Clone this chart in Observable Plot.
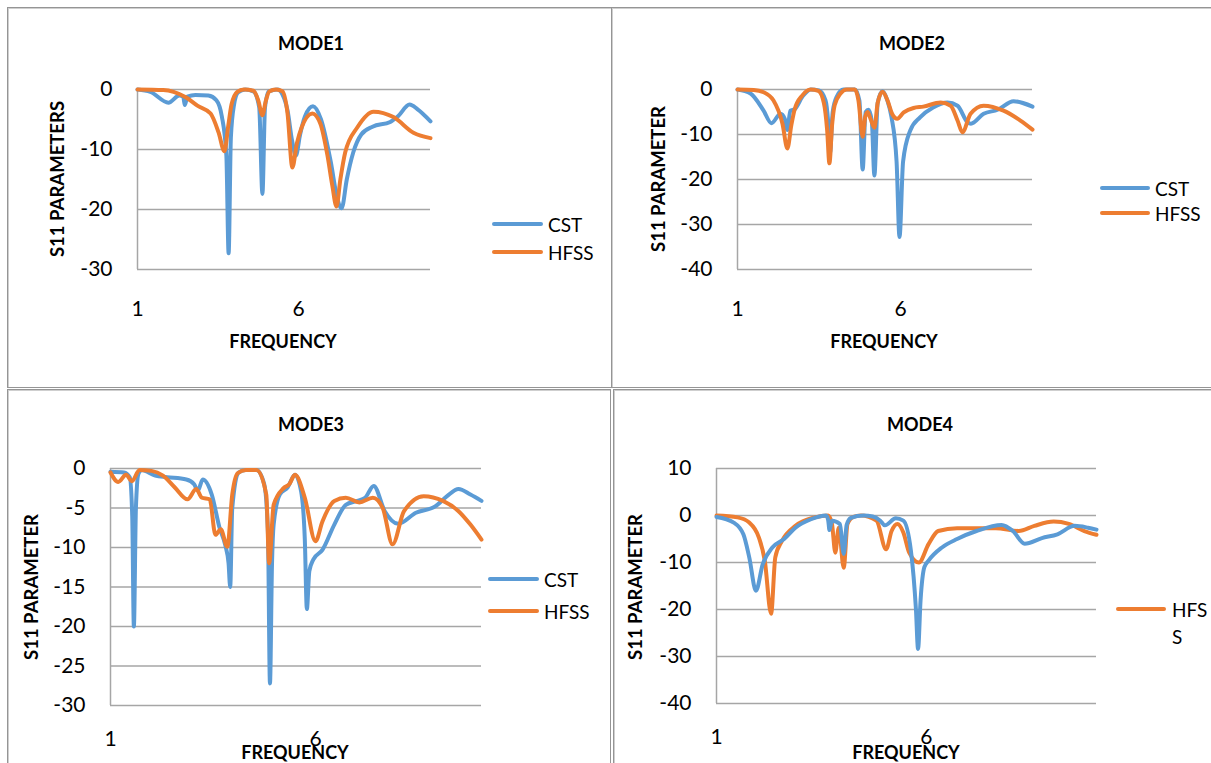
<!DOCTYPE html>
<html><head><meta charset="utf-8">
<script src="https://cdn.jsdelivr.net/npm/d3@7"></script>
<script src="https://cdn.jsdelivr.net/npm/@observablehq/plot@0.6"></script>
<style>
body{margin:0;background:#fff;}
#root{position:relative;width:1211px;height:763px;overflow:hidden;background:#fff;font-family:Lato,"Open Sans",sans-serif;color:#000;}
.box{position:absolute;box-sizing:border-box;border:1px solid #959595;box-shadow:inset 1px 1px 0 #cfcfcf;}
.abs{position:absolute;white-space:nowrap;color:#000;}
.title{font-weight:bold;font-size:18px;transform:translate(-50%,-50%);}
.xlab{font-weight:bold;font-size:18px;transform:translate(-50%,-50%);}
.ylab{font-weight:bold;font-size:18.5px;transform:translate(-50%,-50%) rotate(-90deg);}
.leg{font-size:19px;transform:translateY(-50%);}
.legline{position:absolute;height:4px;border-radius:2px;transform:translateY(-50%);}
.plot{position:absolute;}
</style></head>
<body><div id="root"></div>
<script>
// ---- data: [frequency, S11] ----
const titles = ["MODE1","MODE2","MODE3","MODE4"];
const yLabels = ["S11 PARAMETERS","S11 PARAMETER","S11 PARAMETER","S11 PARAMETER"];
const xLabel = "FREQUENCY";
const seriesNames = ["CST","HFSS"];
const xTicks = [1,6];
const yTicks1 = [0,-10,-20,-30];
const yTicks2 = [0,-10,-20,-30,-40];
const yTicks3 = [0,-5,-10,-15,-20,-25,-30];
const yTicks4 = [10,0,-10,-20,-30,-40];

const mode1CST = [[1,0],[1.4,-0.4],[1.96,-2.2],[2.3,-1.0],[2.42,-1.2],[2.47,-2.6],[2.55,-1.2],[2.8,-0.9],[3.2,-1.0],[3.45,-1.8],[3.62,-4.5],[3.76,-11],[3.83,-27.3],[3.9,-8],[4.0,-2.5],[4.12,-0.5],[4.35,0],[4.6,-0.3],[4.78,-3],[4.88,-17.4],[4.96,-3],[5.08,-0.3],[5.35,0],[5.5,-0.8],[5.66,-3.5],[5.8,-8.5],[5.92,-11],[6.05,-7.5],[6.2,-4.5],[6.45,-2.8],[6.7,-5],[7.0,-12],[7.2,-18],[7.34,-19.8],[7.5,-15],[7.7,-10.5],[7.95,-7.5],[8.3,-6.2],[8.85,-5.4],[9.1,-4.4],[9.45,-2.5],[9.7,-3.3],[10.1,-5.3]];
const mode1HFSS = [[1,0],[1.8,-0.1],[2.12,-0.4],[2.5,-1.3],[2.86,-2.7],[3.27,-4],[3.52,-7.2],[3.7,-10.3],[3.82,-6],[3.92,-2.5],[4.1,-0.4],[4.3,0],[4.6,-0.2],[4.75,-1.8],[4.88,-4.3],[4.98,-2],[5.1,-0.3],[5.3,0],[5.5,-0.3],[5.66,-4],[5.81,-13],[5.95,-9],[6.1,-6.3],[6.43,-4],[6.68,-5.7],[6.9,-11],[7.05,-16],[7.18,-19.5],[7.3,-15],[7.45,-10.5],[7.83,-6.3],[8.33,-3.7],[8.95,-4.6],[9.57,-7.2],[10.1,-8.1]];

const mode2CST = [[1,0],[1.4,-0.9],[1.8,-4.7],[2.04,-7.5],[2.32,-5.4],[2.45,-6.5],[2.53,-9],[2.62,-4.7],[2.75,-4.4],[3.0,-1.5],[3.25,0],[3.5,-0.2],[3.7,-2.4],[3.78,-7],[3.84,-14],[3.92,-5],[4.05,-1.5],[4.25,0],[4.6,0],[4.74,-2.5],[4.84,-17.8],[4.93,-5],[5.02,-4.5],[5.12,-7],[5.2,-19.1],[5.3,-3],[5.45,-0.4],[5.6,-2.5],[5.72,-6],[5.88,-16],[5.97,-32.8],[6.08,-16],[6.3,-9.1],[6.6,-6.2],[7.0,-4],[7.44,-2.9],[7.75,-3.6],[8.06,-7.3],[8.16,-7.6],[8.55,-5.4],[8.98,-4.5],[9.47,-2.6],[10.05,-3.8]];
const mode2HFSS = [[1,0],[1.5,-0.1],[1.8,-0.6],[2.1,-2.4],[2.38,-7.6],[2.53,-13.1],[2.65,-8],[2.75,-4.5],[2.99,-1.3],[3.24,0],[3.48,-0.3],[3.65,-3],[3.75,-9],[3.82,-16.4],[3.9,-8],[3.98,-3.5],[4.16,-0.9],[4.35,0],[4.6,0],[4.71,-2.4],[4.84,-10.5],[4.92,-6],[4.99,-5],[5.08,-6.5],[5.2,-8.5],[5.3,-3],[5.45,-0.5],[5.6,-2.4],[5.75,-5.5],[5.9,-6.5],[6.1,-5.1],[6.4,-4.1],[6.7,-3.8],[7.23,-2.9],[7.54,-3.6],[7.75,-6.9],[7.9,-9.5],[8.15,-5.4],[8.55,-3.6],[9.16,-4.7],[9.68,-6.9],[10.05,-8.9]];

const mode3CST = [[1,-0.4],[1.33,-0.5],[1.47,-1.1],[1.53,-6],[1.57,-20],[1.62,-5],[1.68,-0.7],[1.76,-0.2],[2.09,-0.9],[2.38,-1.1],[2.85,-1.4],[3.04,-2],[3.13,-2.8],[3.25,-1.4],[3.47,-3.3],[3.66,-7.5],[3.8,-9.7],[3.88,-12],[3.92,-15],[3.97,-5],[4.13,-0.5],[4.3,-0.2],[4.56,-0.2],[4.75,-2],[4.84,-8],[4.89,-27.2],[4.94,-12],[4.98,-7.1],[5.13,-3.3],[5.32,-2.4],[5.5,-0.8],[5.65,-2.9],[5.74,-9],[5.79,-17.8],[5.85,-13],[5.95,-11.5],[6.17,-10.3],[6.46,-7.1],[6.74,-4.6],[7.02,-4.1],[7.21,-3.7],[7.42,-2.2],[7.69,-5.4],[8.02,-7],[8.45,-5.6],[8.92,-4.8],[9.21,-3.5],[9.49,-2.6],[9.78,-3.3],[10.05,-4.1]];
const mode3HFSS = [[1,-0.5],[1.19,-1.7],[1.38,-0.8],[1.52,-1.6],[1.71,-0.2],[2.0,-0.3],[2.28,-0.9],[2.57,-2.4],[2.88,-3.9],[3.09,-2.6],[3.23,-3.7],[3.42,-3.9],[3.56,-8.4],[3.69,-7.7],[3.85,-9.9],[3.97,-3.3],[4.1,-0.6],[4.3,-0.2],[4.56,-0.2],[4.8,-3.3],[4.87,-12],[4.98,-4.6],[5.22,-2.5],[5.36,-2],[5.5,-0.8],[5.74,-3.7],[6.0,-9.2],[6.17,-6.7],[6.46,-4.1],[6.74,-3.7],[7.07,-4.3],[7.4,-3.7],[7.64,-5],[7.88,-9.6],[8.16,-5.4],[8.64,-3.5],[9.11,-4.1],[9.49,-5.4],[9.78,-7.1],[10.05,-9]];

const mode4CST = [[1,-0.3],[1.41,-1.5],[1.64,-4],[1.78,-8.9],[1.94,-16],[2.1,-10.4],[2.33,-6.8],[2.61,-5],[2.88,-2.6],[3.25,-0.8],[3.61,0],[3.66,-1],[3.69,-3.1],[3.75,-1.1],[3.94,-1.8],[4.03,-8.2],[4.1,-2],[4.2,-0.5],[4.5,0],[4.72,-0.2],[4.9,-1.1],[5.01,-2.1],[5.27,-0.6],[5.45,-1.1],[5.63,-7.5],[5.75,-20],[5.8,-28.4],[5.86,-18],[5.95,-11],[6.05,-9.6],[6.37,-6.8],[6.73,-5],[7.19,-3.3],[7.79,-2],[8.06,-3.3],[8.34,-6],[8.75,-4.8],[9.12,-4],[9.53,-2.2],[9.85,-2.6],[10.05,-3]];
const mode4HFSS = [[1,0],[1.5,-0.4],[1.78,-1.5],[2.01,-4.7],[2.15,-9.6],[2.3,-20.9],[2.4,-8.9],[2.56,-5.4],[2.88,-2.2],[3.34,-0.4],[3.66,0],[3.75,-1.8],[3.83,-7.9],[3.91,-2.6],[4.03,-11.1],[4.12,-1.8],[4.26,-0.3],[4.44,0],[4.81,-1.1],[5.04,-7.2],[5.17,-3.3],[5.31,-1.8],[5.45,-3.6],[5.59,-7.9],[5.82,-10],[6.05,-6.1],[6.28,-3.3],[6.73,-2.7],[7.65,-2.7],[8.2,-3.3],[8.57,-2.2],[9.03,-1.3],[9.39,-1.8],[9.76,-3.3],[10.05,-4.1]];

// ---- layout ----
const CST_COLOR = "#5b9bd5", HFSS_COLOR = "#ed7d31", GRID = "#a6a6a6";
const root = document.getElementById("root");

function el(cls, css, text){
  const d = document.createElement("div");
  d.className = cls;
  Object.assign(d.style, css);
  if (text != null) d.textContent = text;
  root.appendChild(d);
  return d;
}

const panels = [
  {box:[7,7,605,381], svg:[8,8,603,379], m:[81,181,118,129], xMax:10.1, yDomain:[-30,0], yTicks:yTicks1,
   cst:mode1CST, hfss:mode1HFSS, order:"cst-first", xPad:32,
   title:[311,43], ylab:[57,179], xlab:[283,341],
   legend:[{name:0,x1:492,x2:543,y:224,tx:548},{name:1,x1:492,x2:543,y:252,tx:548}]},
  {box:[611,7,610,381], svg:[611,8,600,379], m:[81,179,118,126], xMax:10.05, yDomain:[-40,0], yTicks:yTicks2,
   cst:mode2CST, hfss:mode2HFSS, order:"cst-first", xPad:32,
   title:[912,43], ylab:[658,179], xlab:[884,341],
   legend:[{name:0,x1:1100,x2:1150,y:188,tx:1155},{name:1,x1:1100,x2:1150,y:213,tx:1155}]},
  {box:[7,389,604,390], svg:[8,389,603,374], m:[79,130,58,102], xMax:10.05, yDomain:[-30,0], yTicks:yTicks3,
   cst:mode3CST, hfss:mode3HFSS, order:"cst-first", xPad:26,
   title:[311,424], ylab:[31,587], xlab:[295,752],
   legend:[{name:0,x1:488,x2:539,y:579,tx:544},{name:1,x1:488,x2:539,y:611,tx:544}]},
  {box:[613,389,610,390], svg:[613,389,598,374], m:[79,115,60,103], xMax:10.05, yDomain:[-40,10], yTicks:yTicks4,
   cst:mode4CST, hfss:mode4HFSS, order:"hfss-first", xPad:26,
   title:[920,424], ylab:[635,587], xlab:[906,752],
   legend:[{name:1,x1:1116,x2:1166,y:609,tx:1172,wrap:true}]}
];

panels.forEach((p, i) => {
  el("box", {left:p.box[0]+"px", top:p.box[1]+"px", width:p.box[2]+"px", height:p.box[3]+"px"});
  const cstLine = Plot.line(p.cst, {x:d=>d[0], y:d=>d[1], stroke:CST_COLOR, strokeWidth:4, curve:"monotone-x", strokeLinejoin:"round", strokeLinecap:"round"});
  const hfssLine = Plot.line(p.hfss, {x:d=>d[0], y:d=>d[1], stroke:HFSS_COLOR, strokeWidth:4, curve:"monotone-x", strokeLinejoin:"round", strokeLinecap:"round"});
  const chart = Plot.plot({
    width: p.svg[2], height: p.svg[3],
    marginTop: p.m[0], marginRight: p.m[1], marginBottom: p.m[2], marginLeft: p.m[3],
    style: {fontFamily: "Lato, 'Open Sans', sans-serif", fontSize: "21px", color: "#000", background: "transparent", overflow: "visible"},
    x: {domain:[1, p.xMax], ticks: xTicks, tickSize: 0, tickPadding: p.xPad, label: null, tickFormat: d => String(d)},
    y: {domain: p.yDomain, ticks: p.yTicks, tickSize: 0, tickPadding: 25, label: null, tickFormat: d => d < 0 ? "-" + Math.abs(d) : String(d)},
    marks: [
      Plot.ruleY(p.yTicks, {stroke: GRID, strokeWidth: 1.5}),
      Plot.ruleX([1], {stroke: GRID, strokeWidth: 1.5}),
      ...(p.order === "cst-first" ? [cstLine, hfssLine] : [hfssLine, cstLine])
    ]
  });
  const wrap = document.createElement("div");
  wrap.className = "plot";
  Object.assign(wrap.style, {left:p.svg[0]+"px", top:p.svg[1]+"px"});
  wrap.appendChild(chart);
  root.appendChild(wrap);

  el("abs title", {left:p.title[0]+"px", top:p.title[1]+"px"}, titles[i]);
  el("abs ylab", {left:p.ylab[0]+"px", top:p.ylab[1]+"px"}, yLabels[i]);
  el("abs xlab", {left:p.xlab[0]+"px", top:p.xlab[1]+"px"}, xLabel);
  p.legend.forEach(l => {
    el("legline", {left:l.x1+"px", top:l.y+"px", width:(l.x2-l.x1)+"px", background: l.name === 0 ? CST_COLOR : HFSS_COLOR});
    const name = seriesNames[l.name];
    if (l.wrap) {
      el("abs leg", {left:l.tx+"px", top:l.y+"px"}, name.slice(0,3));
      el("abs leg", {left:l.tx+"px", top:(l.y+27)+"px"}, name.slice(3));
    } else {
      el("abs leg", {left:l.tx+"px", top:l.y+"px"}, name);
    }
  });
});
</script>
</body></html>
